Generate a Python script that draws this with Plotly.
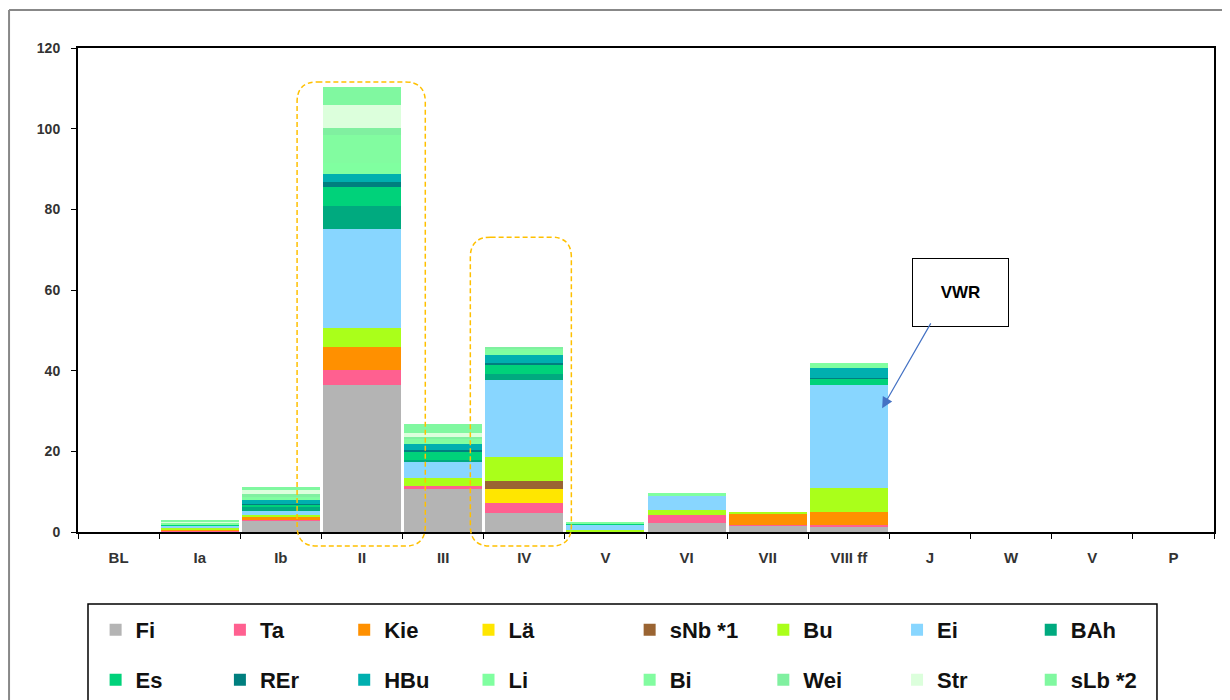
import plotly.graph_objects as go

categories = ["BL", "Ia", "Ib", "II", "III", "IV", "V", "VI", "VII", "VIII ff", "J", "W", "V", "P"]
x_pos = list(range(len(categories)))

Fi  = [0, 0.2, 2.8, 36.4, 10.7, 4.8, 0.2, 2.3, 1.5, 1.2, 0, 0, 0, 0]
Ta  = [0, 0.1, 0.3, 3.8, 0.7, 2.3, 0, 1.9, 0.3, 0.6, 0, 0, 0, 0]
Kie = [0, 0.2, 0.5, 5.7, 0, 0, 0, 0, 2.6, 3.2, 0, 0, 0, 0]
Lae = [0, 0, 0, 0, 0, 3.5, 0, 0, 0, 0, 0, 0, 0, 0]
sNb = [0, 0, 0, 0, 0, 2.1, 0, 0, 0, 0, 0, 0, 0, 0]
Bu  = [0, 0.6, 0.5, 4.6, 2.1, 6.0, 0.3, 1.3, 0.5, 5.8, 0, 0, 0, 0]
Ei  = [0, 0.3, 1.0, 24.6, 3.9, 19.0, 1.3, 3.5, 0, 25.6, 0, 0, 0, 0]
BAh = [0, 0, 1.2, 5.8, 0.5, 1.4, 0, 0, 0, 0, 0, 0, 0, 0]
Es  = [0, 0.5, 0.4, 4.6, 2.0, 2.5, 0.2, 0, 0, 1.6, 0, 0, 0, 0]
REr = [0, 0, 0.3, 1.4, 0.5, 0.4, 0, 0, 0, 0.3, 0, 0, 0, 0]
HBu = [0, 0, 0.9, 1.8, 1.3, 1.9, 0, 0, 0, 2.3, 0, 0, 0, 0]
Li  = [0, 0.4, 0.5, 2.7, 0.7, 1.0, 0.6, 0.6, 0, 1.2, 0, 0, 0, 0]
Bi  = [0, 0, 0.5, 7.0, 0.6, 0.5, 0, 0, 0, 0, 0, 0, 0, 0]
Wei = [0, 0, 0.4, 1.7, 0.6, 0.5, 0, 0, 0, 0, 0, 0, 0, 0]
Str = [0, 0.3, 1.2, 5.8, 1.0, 0, 0, 0, 0, 0, 0, 0, 0, 0]
sLb = [0, 0.4, 0.7, 4.4, 2.2, 0, 0, 0, 0, 0, 0, 0, 0, 0]

series_names = ["Fi", "Ta", "Kie", "Lä", "sNb *1", "Bu", "Ei", "BAh",
                "Es", "REr", "HBu", "Li", "Bi", "Wei", "Str", "sLb *2"]
series_values = [Fi, Ta, Kie, Lae, sNb, Bu, Ei, BAh, Es, REr, HBu, Li, Bi, Wei, Str, sLb]
series_colors = ["#B4B4B4", "#FF6090", "#FF9000", "#FFE600", "#9A6432", "#AAFF1A",
                 "#88D6FF", "#00AA7F", "#00D27A", "#007F7F", "#00AFAF", "#80FFA0",
                 "#82FCA0", "#80F0A0", "#DCFFDC", "#80F8A0"]

y_ticks = [0, 20, 40, 60, 80, 100, 120]

# annotation boxes (category index range, value range)
box_II = (2.2, 3.78, -3.5, 111.6)
box_IV = (4.335, 5.58, -3.5, 73.1)
vwr_label = (10.38, 59.5)
vwr_arrow_tail = (10.02, 52.1)
vwr_arrow_head = (9.41, 30.7)

N = len(categories)
YMAX = 120.0


def px(xi):
    return (xi + 0.5) / N


def py(v):
    return v / YMAX


# legend slot: row (0/1) and half (0 left / 1 right)
def legend_id(i):
    row = i // 8
    half = (i % 8) // 4
    k = row * 2 + half + 1
    return "legend" if k == 1 else f"legend{k}"


fig = go.Figure()
for i, (name, vals, col) in enumerate(zip(series_names, series_values, series_colors)):
    fig.add_trace(go.Bar(
        x=x_pos, y=vals, name=name,
        marker=dict(color=col, line=dict(width=0)),
        legend=legend_id(i),
    ))


def rounded_path(x0, x1, y0, y1, rx=0.25 / N, ry=5.0 / YMAX):
    return (f"M{x0+rx},{y1} L{x1-rx},{y1} Q{x1},{y1} {x1},{y1-ry} "
            f"L{x1},{y0+ry} Q{x1},{y0} {x1-rx},{y0} L{x0+rx},{y0} "
            f"Q{x0},{y0} {x0},{y0+ry} L{x0},{y1-ry} Q{x0},{y1} {x0+rx},{y1} Z")


shapes = []
for b in (box_II, box_IV):
    shapes.append(dict(type="path", xref="paper", yref="paper",
                       path=rounded_path(px(b[0]), px(b[1]), py(b[2]), py(b[3])),
                       line=dict(color="#FFC000", width=1.5, dash="5px,3px")))

# outer frame (top & left)
shapes.append(dict(type="line", xref="paper", yref="paper", x0=-0.0607, x1=1.03,
                   y0=1.0785, y1=1.0785, line=dict(color="#888888", width=2)))
shapes.append(dict(type="line", xref="paper", yref="paper", x0=-0.0607, x1=-0.0607,
                   y0=1.0785, y1=-0.40, line=dict(color="#888888", width=2)))
# legend frame
shapes.append(dict(type="rect", xref="paper", yref="paper", x0=0.0088, x1=0.9498,
                   y0=-0.40, y1=-0.1488, line=dict(color="#000000", width=1.5)))

annotations = [
    dict(x=px(vwr_label[0]), y=py(vwr_label[1]), xref="paper", yref="paper",
         xanchor="center", yanchor="middle",
         text="<b>VWR</b>", showarrow=False, width=93, height=65,
         bordercolor="#000000", borderwidth=1, bgcolor="#FFFFFF",
         font=dict(family="Liberation Sans, Arial", size=17, color="#000000")),
    dict(x=vwr_arrow_head[0], y=vwr_arrow_head[1], xref="x", yref="y",
         ax=vwr_arrow_tail[0], ay=vwr_arrow_tail[1], axref="x", ayref="y",
         text="", showarrow=True, arrowhead=2, arrowsize=1.8, arrowwidth=1.2,
         arrowcolor="#4472C4"),
]

legend_font = dict(family="Liberation Sans, Arial", size=22, color="#111111", weight="bold")


def legend_cfg(x, y, ew):
    return dict(orientation="h", x=x, xanchor="left", xref="paper",
                y=y, yanchor="top", yref="container",
                entrywidth=ew, entrywidthmode="pixels", traceorder="normal",
                font=legend_font, bgcolor="rgba(0,0,0,0)", borderwidth=0)


fig.update_layout(
    width=1230, height=700,
    margin=dict(l=70, r=24, t=40, b=176),
    paper_bgcolor="#FFFFFF", plot_bgcolor="#FFFFFF",
    barmode="stack", bargap=0.04,
    font=dict(family="Liberation Sans, Arial", color="#333333"),
    xaxis=dict(
        range=[-0.5, N - 0.5], tickmode="array", tickvals=x_pos, ticktext=categories,
        ticks="", showline=True, linecolor="#000000", linewidth=2, mirror=True,
        showgrid=False, zeroline=False, ticklabelstandoff=11,
        tickfont=dict(size=15, color="#333333", weight="bold"),
        minor=dict(tickmode="linear", tick0=-0.5, dtick=1, ticks="outside",
                   ticklen=5, tickwidth=1, tickcolor="#000000", showgrid=False),
    ),
    yaxis=dict(
        range=[0, YMAX], tickmode="array", tickvals=y_ticks,
        ticks="outside", ticklen=5, tickwidth=1, tickcolor="#000000",
        showline=True, linecolor="#000000", linewidth=2, mirror=True,
        showgrid=False, zeroline=False, ticklabelstandoff=8,
        tickfont=dict(size=14, color="#333333", weight="bold"),
    ),
    legend=legend_cfg(0.0155, 0.1414, 79.3),
    legend2=legend_cfg(0.4856, 0.1414, 88.7),
    legend3=legend_cfg(0.0155, 0.0700, 79.3),
    legend4=legend_cfg(0.4856, 0.0700, 88.7),
    shapes=shapes,
    annotations=annotations,
)

fig.write_html("out.html")
